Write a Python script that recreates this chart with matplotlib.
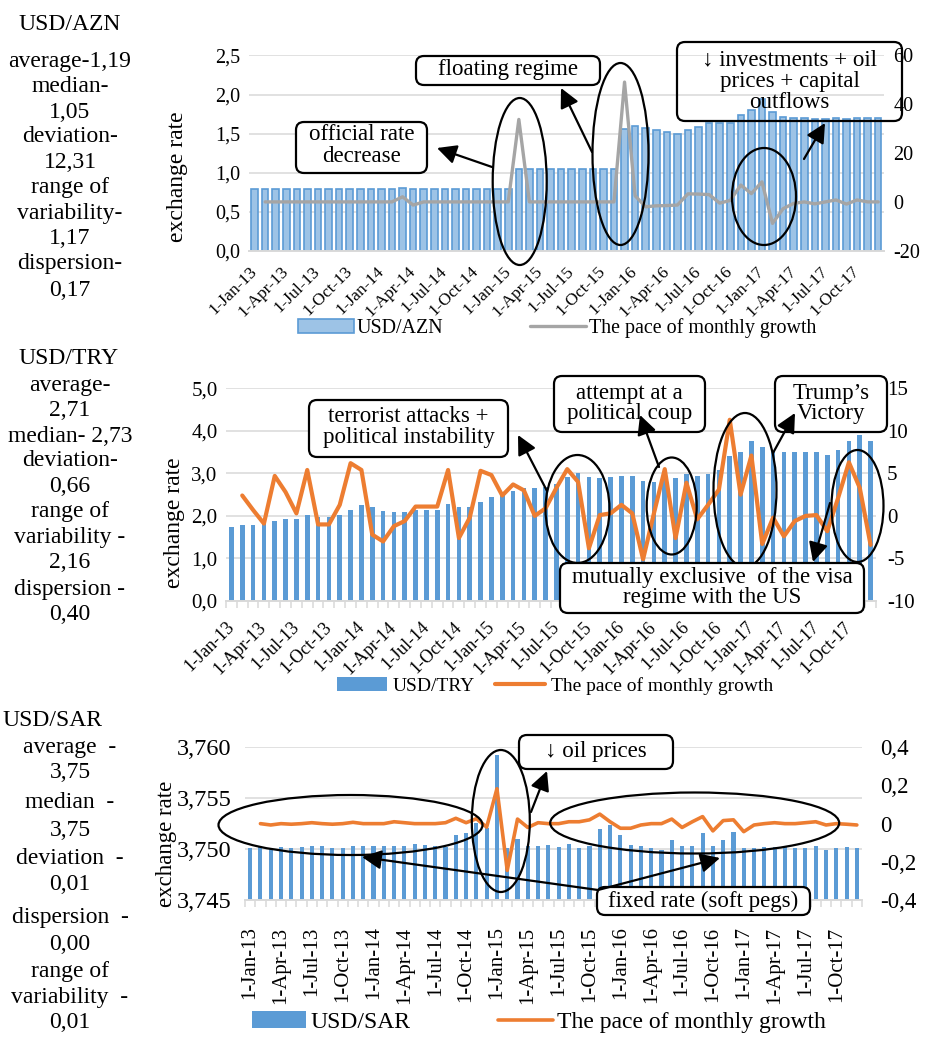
import numpy as np
import matplotlib
matplotlib.use("Agg")
import matplotlib.pyplot as plt
from matplotlib.patches import Ellipse, FancyBboxPatch

plt.rcParams['font.family'] = ['Liberation Serif', 'DejaVu Serif']

W, H = 928, 1045

# ---------------------------------------------------------------- data
tick_labels = ["1-Jan-13", "1-Apr-13", "1-Jul-13", "1-Oct-13", "1-Jan-14",
               "1-Apr-14", "1-Jul-14", "1-Oct-14", "1-Jan-15", "1-Apr-15",
               "1-Jul-15", "1-Oct-15", "1-Jan-16", "1-Apr-16", "1-Jul-16",
               "1-Oct-16", "1-Jan-17", "1-Apr-17", "1-Jul-17", "1-Oct-17"]

# monthly USD/AZN, Jan 2013 .. Dec 2017
azn_rate = [0.785, 0.785, 0.785, 0.785, 0.785, 0.785, 0.785, 0.785, 0.785, 0.785, 0.785, 0.785,
            0.785, 0.785, 0.801, 0.785, 0.785, 0.785, 0.785, 0.785, 0.785, 0.785, 0.785, 0.785,
            0.785, 1.050, 1.050, 1.050, 1.050, 1.050, 1.050, 1.050, 1.050, 1.050, 1.050, 1.565,
            1.600, 1.570, 1.543, 1.518, 1.497, 1.543, 1.590, 1.637, 1.630, 1.633, 1.744, 1.800,
            1.949, 1.770, 1.718, 1.705, 1.705, 1.690, 1.690, 1.700, 1.690, 1.700, 1.700, 1.700]
azn_pace = [None, 0.0, 0.0, 0.0, 0.0, 0.0, 0.0, 0.0, 0.0, 0.0, 0.0, 0.0,
            0.0, 0.0, 2.1, -1.3, 0.0, 0.0, 0.0, 0.0, 0.0, 0.0, 0.0, 0.0,
            0.0, 33.8, 0.0, 0.0, 0.0, 0.0, 0.0, 0.0, 0.0, 0.0, 0.0, 49.1,
            2.5, -2.0, -1.6, -1.5, -1.3, 3.3, 3.2, 3.0, -0.5, 0.6, 6.9, 3.4,
            8.2, -8.8, -2.8, -0.6, 0.0, -0.8, 0.0, 0.8, -0.9, 0.8, 0.0, 0.0]

# monthly USD/TRY
try_rate = [1.75, 1.79, 1.79, 1.81, 1.87, 1.92, 1.93, 2.02, 1.98, 1.98, 2.01, 2.14,
            2.26, 2.20, 2.12, 2.10, 2.09, 2.14, 2.14, 2.14, 2.27, 2.22, 2.22, 2.32,
            2.44, 2.50, 2.59, 2.65, 2.65, 2.67, 2.76, 2.91, 3.02, 2.91, 2.90, 2.91,
            2.94, 2.94, 2.81, 2.80, 2.96, 2.88, 2.98, 2.95, 2.99, 3.08, 3.41, 3.51,
            3.76, 3.63, 3.53, 3.51, 3.51, 3.51, 3.51, 3.44, 3.55, 3.77, 3.91, 3.77]
try_pace = [None, 2.4, 0.7, -0.9, 4.7, 2.8, 0.3, 5.4, -1.0, -1.0, 1.3, 6.2,
            5.4, -2.2, -3.0, -1.2, -0.6, 1.1, 1.1, 1.1, 5.4, -2.6, -0.2, 5.3,
            4.8, 2.4, 3.7, 3.0, 0.0, 0.9, 3.3, 5.5, 4.0, -3.8, 0.1, 0.3,
            1.3, 0.3, -5.1, 0.3, 5.5, -2.6, 3.9, -0.4, 1.3, 3.1, 11.3, 2.5,
            7.1, -3.3, -0.2, -2.4, -0.6, 0.0, 0.1, -1.8, 2.1, 6.3, 3.3, -3.4]

# monthly USD/SAR
sar_rate = [3.7501, 3.7502, 3.7501, 3.7502, 3.7501, 3.7502, 3.7503, 3.7503, 3.7501, 3.7501, 3.7503, 3.7503,
            3.7503, 3.7503, 3.7503, 3.7503, 3.7505, 3.7504, 3.7503, 3.7502, 3.7514, 3.7516, 3.7526, 3.7521,
            3.7592, 3.7501, 3.7510, 3.7503, 3.7503, 3.7504, 3.7502, 3.7505, 3.7501, 3.7503, 3.7520, 3.7524,
            3.7514, 3.7504, 3.7503, 3.7501, 3.7499, 3.7509, 3.7503, 3.7503, 3.7516, 3.7503, 3.7509, 3.7517,
            3.7501, 3.7501, 3.7502, 3.7502, 3.7502, 3.7501, 3.7501, 3.7503, 3.7499, 3.7501, 3.7502, 3.7501]
sar_pace = [None, 0.0, -0.007, 0.0, -0.003, 0.0, 0.005, 0.0, -0.003, 0.0, 0.007, 0.0,
            0.0, 0.0, 0.010, 0.005, 0.0, 0.0, 0.0, 0.005, 0.028, 0.005, 0.026, -0.018,
            0.183, -0.245, 0.024, -0.020, 0.005, 0.0, 0.0, 0.010, 0.010, 0.020, 0.050, 0.010,
            -0.024, -0.024, -0.007, 0.0, 0.0, 0.024, -0.020, 0.010, 0.037, -0.038, 0.016, 0.020,
            -0.042, -0.007, 0.0, 0.005, 0.0, 0.0, 0.005, 0.010, -0.007, 0.0, -0.003, -0.007]

azn_left_ticks = [0.0, 0.5, 1.0, 1.5, 2.0, 2.5]
azn_left_labels = ["0,0", "0,5", "1,0", "1,5", "2,0", "2,5"]
azn_right_ticks = [-20, 0, 20, 40, 60]
azn_right_labels = ["-20", "0", "20", "40", "60"]

try_left_ticks = [0, 1, 2, 3, 4, 5]
try_left_labels = ["0,0", "1,0", "2,0", "3,0", "4,0", "5,0"]
try_right_ticks = [-10, -5, 0, 5, 10, 15]
try_right_labels = ["-10", "-5", "0", "5", "10", "15"]

sar_left_ticks = [3.745, 3.750, 3.755, 3.760]
sar_left_labels = ["3,745", "3,750", "3,755", "3,760"]
sar_right_ticks = [-0.4, -0.2, 0.0, 0.2, 0.4]
sar_right_labels = ["-0,4", "-0,2", "0", "0,2", "0,4"]

azn_stats = ["average-1,19", "median-", "1,05", "deviation-", "12,31", "range of",
             "variability-", "1,17", "dispersion-", "0,17"]
try_stats = ["average-", "2,71", "median- 2,73", "deviation-", "0,66", "range of",
             "variability -", "2,16", "dispersion -", "0,40"]
sar_stats = ["average  -", "3,75", "median  -", "3,75", "deviation  -", "0,01",
             "dispersion  -", "0,00", "range of", "variability  -", "0,01"]

GROWTH = "The pace of monthly growth"

# ---------------------------------------------------------------- figure
fig = plt.figure(figsize=(W / 100, H / 100), dpi=100)
fig.patch.set_facecolor("white")
GRID = "#d9d9d9"


def px_axes(left, top, right, bottom):
    return fig.add_axes([left / W, 1 - bottom / H, (right - left) / W, (bottom - top) / H])


def draw_chart(box, rate, pace, bar_kw, line_kw, ylim, lt, ll, y2lim, rt, rl,
               fs_left, fs_right, pad_left, pad_right, fs_x, x_rot, x_pad,
               minor, legend_name, legend_xy, legend_fs, legend_kw):
    ax = px_axes(*box)
    x = np.arange(len(rate))
    bars = ax.bar(x, rate, zorder=2, label=legend_name, **bar_kw)
    ax.set_xlim(-0.5, len(rate) - 0.5)
    ax.set_ylim(*ylim)
    ax.set_yticks(lt)
    ax.set_yticklabels(ll)
    ax.yaxis.grid(True, color=GRID, lw=1.1)
    ax.set_axisbelow(True)
    for s in ("top", "left", "right"):
        ax.spines[s].set_visible(False)
    ax.spines["bottom"].set_color(GRID)
    ax.spines["bottom"].set_linewidth(1.4)
    ax.tick_params(axis="y", length=0, pad=pad_left, labelsize=fs_left)
    ax.set_xticks(x[::3])
    if x_rot == 90:
        ax.set_xticklabels(tick_labels, rotation=90, fontsize=fs_x)
    else:
        ax.set_xticklabels(tick_labels, rotation=x_rot, ha="right", va="center",
                           rotation_mode="anchor", fontsize=fs_x)
    ax.tick_params(axis="x", which="major", length=0, pad=x_pad)
    if minor:
        ax.set_xticks(np.arange(-0.5, len(rate), 1.0), minor=True)
        ax.tick_params(axis="x", which="minor", length=5, width=1.1, color=GRID)

    ax2 = ax.twinx()
    vals = np.array(pace, dtype=float)
    line, = ax2.plot(x, vals, label=GROWTH, solid_capstyle="round",
                     solid_joinstyle="round", zorder=3, **line_kw)
    ax2.set_ylim(*y2lim)
    ax2.set_yticks(rt)
    ax2.set_yticklabels(rl)
    for s in ax2.spines.values():
        s.set_visible(False)
    ax2.tick_params(axis="y", length=0, pad=pad_right, labelsize=fs_right)

    ax.legend(handles=[bars, line], loc="center", ncol=2, frameon=False,
              bbox_to_anchor=(legend_xy[0] / W, 1 - legend_xy[1] / H),
              bbox_transform=fig.transFigure,
              prop={"family": "Liberation Serif", "size": legend_fs}, **legend_kw)
    return ax, ax2


# USD/AZN
draw_chart((249.3, 55.5, 883.5, 250.7), azn_rate, azn_pace,
           dict(width=0.62, color="#9dc3e6", edgecolor="#5b9bd5", linewidth=1.2),
           dict(color="#a5a5a5", lw=2.4),
           (0, 2.5), azn_left_ticks, azn_left_labels,
           (-20, 60), azn_right_ticks, azn_right_labels,
           14.5, 14.5, 6.5, 7, 12.5, 45, 13, False,
           "USD/AZN", (557, 328), 14.4,
           dict(handlelength=2.8, handleheight=0.7, handletextpad=0.15, columnspacing=4.3))

# USD/TRY
draw_chart((226, 388.3, 876, 601), try_rate, try_pace,
           dict(width=0.42, color="#5b9bd5", linewidth=0),
           dict(color="#ed7d31", lw=3.0),
           (0, 5), try_left_ticks, try_left_labels,
           (-10, 15), try_right_ticks, try_right_labels,
           15, 15, 6, 8, 13, 45, 17, True,
           "USD/TRY", (555, 686), 14,
           dict(handlelength=2.6, handleheight=0.7, handletextpad=0.3, columnspacing=1.0))

# USD/SAR
draw_chart((245, 747.3, 862, 900), sar_rate, sar_pace,
           dict(width=0.40, color="#5b9bd5", linewidth=0),
           dict(color="#ed7d31", lw=2.6),
           (3.745, 3.760), sar_left_ticks, sar_left_labels,
           (-0.4, 0.4), sar_right_ticks, sar_right_labels,
           17.5, 16.5, 9.5, 13, 15, 90, 19, True,
           "USD/SAR", (539, 1022), 17,
           dict(handlelength=2.3, handleheight=0.7, handletextpad=0.2, columnspacing=3.7))

# ---------------------------------------------------------------- callout layer (pixel coordinates)
ov = fig.add_axes([0, 0, 1, 1])
ov.set_xlim(0, W)
ov.set_ylim(H, 0)
ov.axis("off")

SERIF = ["Liberation Serif", "DejaVu Serif"]

# axis titles
for cx, cy, fs in [(178, 177, 17), (175, 523, 17), (167, 844, 16.5)]:
    ov.text(cx, cy, "exchange rate", rotation=90, ha="center", va="center",
            fontsize=fs, family=SERIF)

# statistics beside each chart
STAT_FS = 17
ov.text(70, 25, "USD/AZN", ha="center", va="center", fontsize=STAT_FS, family=SERIF)
for s, y in zip(azn_stats, [61, 86, 112, 137, 162, 188, 213, 238, 264, 290]):
    ov.text(70, y, s, ha="center", va="center", fontsize=STAT_FS, family=SERIF)
ov.text(69, 358, "USD/TRY", ha="center", va="center", fontsize=STAT_FS, family=SERIF)
for s, y in zip(try_stats, [385, 410, 436, 461, 487, 512, 538, 563, 589, 614]):
    ov.text(70, y, s, ha="center", va="center", fontsize=STAT_FS, family=SERIF)
ov.text(52, 720, "USD/SAR", ha="center", va="center", fontsize=STAT_FS, family=SERIF)
for s, y in zip(sar_stats, [748, 773, 803, 830, 859, 884, 918, 944, 972, 997, 1022]):
    ov.text(70, y, s, ha="center", va="center", fontsize=STAT_FS, family=SERIF)

# ellipses marking episodes
ellipses = [
    (519.7, 181.5, 54, 167), (620.5, 154, 56, 182), (764, 196.5, 64, 97),
    (577.5, 509, 64, 108), (671.7, 506, 50, 97), (745, 490, 63, 154), (857.5, 506, 52, 112),
    (350.5, 825, 264, 60), (500.8, 821, 58, 142), (694.7, 823, 289, 61),
]
for cx, cy, w, h in ellipses:
    ov.add_patch(Ellipse((cx, cy), w, h, fill=False, ec="black", lw=1.6))

# rounded text boxes: (x0, y0, x1, y1, filled, [(line, y), ...])
callouts = [
    (296, 122, 427, 173, True, [("official rate", 135), ("decrease", 157)]),
    (416, 56, 600, 85, True, [("floating regime", 70)]),
    (677, 42, 902, 121, False, [("\u2193 investments + oil", 60), ("prices + capital", 81),
                                ("outflows", 102)]),
    (309, 400, 508, 457, True, [("terrorist attacks +", 417), ("political instability", 438)]),
    (554, 376, 705, 432, True, [("attempt at a", 393), ("political coup", 414)]),
    (775, 376, 887, 432, True, [("Trump\u2019s", 393), ("Victory", 413)]),
    (560, 563, 864, 613, True, [("mutually exclusive  of the visa", 578),
                                ("regime with the US", 598)]),
    (519, 735, 673, 769, True, [("\u2193 oil prices", 751)]),
    (597, 887, 810, 915, True, [("fixed rate (soft pegs)", 901)]),
]
for x0, y0, x1, y1, filled, lines in callouts:
    ov.add_patch(FancyBboxPatch((x0, y0), x1 - x0, y1 - y0,
                                boxstyle="round,pad=0,rounding_size=8",
                                fc="white" if filled else "none", ec="black", lw=1.6))
    for s, y in lines:
        ov.text((x0 + x1) / 2, y, s, ha="center", va="center", fontsize=16.5, family=SERIF)

# arrows from episodes to their explanations: (tail, head)
arrows = [
    ((492, 167), (437, 148)), ((592, 152), (561, 88)), ((804, 159), (825, 123)),
    ((547, 491), (518, 435)), ((659, 467), (640, 415)), ((773, 453), (795, 413)),
    ((830, 503), (813, 562)),
    ((531, 812), (547, 771)), ((598, 890), (362, 857)), ((598, 890), (720, 858)),
]
for tail, head in arrows:
    ov.annotate("", xy=head, xytext=tail,
                arrowprops=dict(arrowstyle="-|>,head_length=0.9,head_width=0.45",
                                color="black", lw=1.6, shrinkA=0, shrinkB=0,
                                mutation_scale=13))

fig.savefig("out.png", dpi=100, facecolor="white")
